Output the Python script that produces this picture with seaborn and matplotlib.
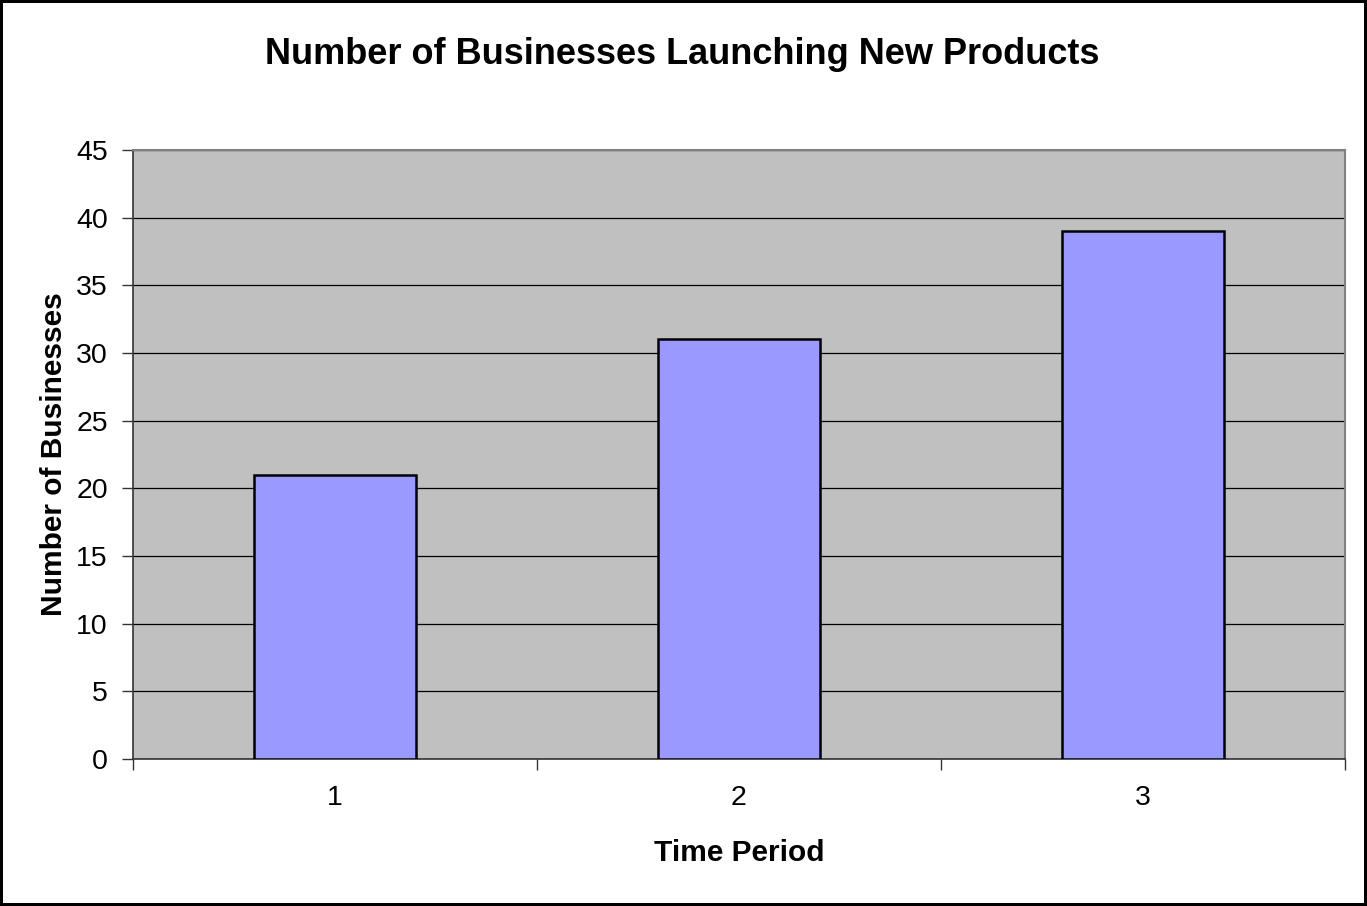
import matplotlib
matplotlib.use("Agg")
import matplotlib.pyplot as plt
import seaborn as sns
import pandas as pd

periods = ["1", "2", "3"]
businesses = [21, 31, 39]
yticks = [0, 5, 10, 15, 20, 25, 30, 35, 40, 45]

sns.set_style("white")
plt.rcParams['font.family'] = ['Liberation Sans', 'DejaVu Sans']
plt.rcParams['text.color'] = 'black'
plt.rcParams['axes.labelcolor'] = 'black'
plt.rcParams['xtick.color'] = 'black'
plt.rcParams['ytick.color'] = 'black'

df = pd.DataFrame({"Time Period": periods, "Number of Businesses": businesses})

fig = plt.figure(figsize=(13.67, 9.06), dpi=100)
fig.patch.set_edgecolor("black")
fig.patch.set_linewidth(3)
ax = fig.add_axes([133/1367, 147/906, (1345-133)/1367, (759-150)/906])
ax.set_facecolor("#C0C0C0")

sns.barplot(data=df, x="Time Period", y="Number of Businesses", ax=ax,
            color="#9999FF", saturation=1, width=0.4,
            edgecolor="black", linewidth=1.8, zorder=3)

ax.set_ylim(0, 45)
ax.set_xlim(-0.5, 2.5)
ax.set_yticks(yticks)
ax.yaxis.grid(True, color="black", linewidth=0.9, zorder=1)
ax.set_axisbelow(True)
for b in ax.patches:
    b.set_zorder(3)

ax.tick_params(axis="y", direction="out", length=8, width=1, labelsize=20.5, pad=10,
               color="#333333", labelcolor="black", left=True)
ax.tick_params(axis="x", which="major", length=0, labelsize=20.5, pad=19, labelcolor="black")
ax.set_xticks([-0.5, 0.5, 1.5, 2.5], minor=True)
ax.tick_params(axis="x", which="minor", direction="out", length=8, width=1, color="#333333", bottom=True)

for side in ["top", "right"]:
    ax.spines[side].set_visible(True)
    ax.spines[side].set_color("#808080")
    ax.spines[side].set_linewidth(1.5)
for side in ["left", "bottom"]:
    ax.spines[side].set_color("#333333")
    ax.spines[side].set_linewidth(1.2)

ax.set_xlabel("Time Period", fontsize=21.5, fontweight="bold", labelpad=20, color="black")
ax.set_ylabel("Number of Businesses", fontsize=21.5, fontweight="bold", labelpad=6, color="black")
fig.text(682/1367, 1 - 55/906, "Number of Businesses Launching New Products",
         ha="center", va="center", fontsize=26, fontweight="bold", color="black")

fig.savefig("out.png", dpi=100, edgecolor=fig.get_edgecolor())
